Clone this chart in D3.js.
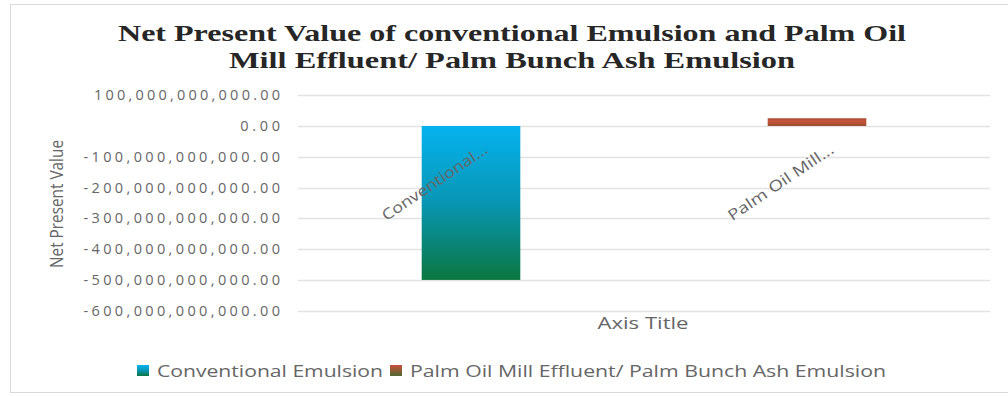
<!DOCTYPE html>
<html>
<head>
<meta charset="utf-8">
<script src="https://cdn.jsdelivr.net/npm/d3@7"></script>
<style>
  body { margin: 0; background: #ffffff; }
  svg { display: block; }
</style>
</head>
<body>
<div id="chart"></div>
<script>
// chart data
var categories = ["Conventional Emulsion", "Palm Oil Mill Effluent/ Palm Bunch Ash Emulsion"];
var categoryLabels = ["Conventional...", "Palm Oil Mill..."];
var seriesNames = ["Conventional Emulsion", "Palm Oil Mill Effluent/ Palm Bunch Ash Emulsion"];
var conventionalValues = [-500000000000, 0];
var palmValues = [0, 25000000000];
var yTicks = [100000000000, 0, -100000000000, -200000000000, -300000000000, -400000000000, -500000000000, -600000000000];
var titleLines = ["Net Present Value of conventional Emulsion and Palm Oil", "Mill Effluent/ Palm Bunch Ash Emulsion"];

// dimensions
var width = 1008, height = 396;
var plot = { left: 298, right: 990, top: 95.2, bottom: 310.7 };

var svg = d3.select("#chart")
    .append("svg")
    .attr("width", width)
    .attr("height", height);

// gradients for the bars and legend keys
var defs = svg.append("defs");
var g1 = defs.append("linearGradient").attr("id", "gradConv")
    .attr("x1", 0).attr("y1", 0).attr("x2", 0).attr("y2", 1);
g1.append("stop").attr("offset", "0%").attr("stop-color", "#05b2ee");
g1.append("stop").attr("offset", "50%").attr("stop-color", "#0996b4");
g1.append("stop").attr("offset", "100%").attr("stop-color", "#0b7640");
var g2 = defs.append("linearGradient").attr("id", "gradPalm")
    .attr("x1", 0).attr("y1", 0).attr("x2", 0).attr("y2", 1);
g2.append("stop").attr("offset", "0%").attr("stop-color", "#a9472f");
g2.append("stop").attr("offset", "40%").attr("stop-color", "#c5553b");
g2.append("stop").attr("offset", "100%").attr("stop-color", "#9a4a2c");
var g3 = defs.append("linearGradient").attr("id", "gradPalmKey")
    .attr("x1", 0).attr("y1", 0).attr("x2", 0).attr("y2", 1);
g3.append("stop").attr("offset", "0%").attr("stop-color", "#c9503a");
g3.append("stop").attr("offset", "100%").attr("stop-color", "#4f6a33");

// outer frame (right side runs off the picture)
svg.append("rect")
    .attr("x", 10.5).attr("y", 4.5)
    .attr("width", 1010).attr("height", 388)
    .attr("fill", "none")
    .attr("stroke", "#d9d9d9");

// scales
var x = d3.scaleBand()
    .domain(categories)
    .range([plot.left, plot.right])
    .padding(0);

var y = d3.scaleLinear()
    .domain([-600000000000, 100000000000])
    .range([plot.bottom, plot.top]);

var locale = d3.formatLocale({ decimal: ".", thousands: ",", grouping: [3], currency: ["", ""], minus: "-" });
var fmt = locale.format(",.2f");

// gridlines
svg.append("g")
    .selectAll("line")
    .data(yTicks)
    .enter()
    .append("line")
    .attr("x1", plot.left)
    .attr("x2", plot.right)
    .attr("y1", d => Math.round(y(d)) + 0.5)
    .attr("y2", d => Math.round(y(d)) + 0.5)
    .attr("stroke", "#e3e3e3")
    .attr("stroke-width", 1.3);

// y axis tick labels
var yAxis = d3.axisLeft(y)
    .tickValues(yTicks)
    .tickFormat(fmt)
    .tickSize(0)
    .tickPadding(0);

var yAxisG = svg.append("g")
    .attr("transform", "translate(280,0)")
    .call(yAxis);
yAxisG.select(".domain").remove();
yAxisG.selectAll("text")
    .attr("font-family", "'Open Sans', sans-serif")
    .attr("font-size", "14.5px")
    .attr("fill", "#666666")
    .attr("textLength", d => fmt(d).length * 10.45 - 2)
    .attr("lengthAdjust", "spacing");

// bars: each category holds one series
var barWidth = x.bandwidth() * 0.285;
var rows = categories.map((c, i) => ({ cat: c, conv: conventionalValues[i], palm: palmValues[i] }));

svg.append("g")
    .selectAll("rect")
    .data(rows.filter(d => d.conv !== 0))
    .enter()
    .append("rect")
    .attr("x", d => x(d.cat) + x.bandwidth() / 2 - barWidth / 2)
    .attr("y", d => y(Math.max(0, d.conv)))
    .attr("width", barWidth)
    .attr("height", d => Math.abs(y(d.conv) - y(0)))
    .attr("fill", "url(#gradConv)");

svg.append("g")
    .selectAll("rect")
    .data(rows.filter(d => d.palm !== 0))
    .enter()
    .append("rect")
    .attr("x", d => x(d.cat) + x.bandwidth() / 2 - barWidth / 2)
    .attr("y", d => y(Math.max(0, d.palm)))
    .attr("width", barWidth)
    .attr("height", d => Math.abs(y(d.palm) - y(0)))
    .attr("fill", "url(#gradPalm)");

// category labels, rotated
svg.append("g")
    .selectAll("text")
    .data(categories)
    .enter()
    .append("text")
    .attr("transform", d => "translate(" + (x(d) + x.bandwidth() / 2 + 18) + "," + (y(0) + 26) + ") rotate(-34)")
    .attr("text-anchor", "end")
    .attr("font-family", "'Open Sans', sans-serif")
    .attr("font-size", "15px")
    .attr("fill", "#666666")
    .attr("textLength", 124)
    .attr("lengthAdjust", "spacingAndGlyphs")
    .text((d, i) => categoryLabels[i]);

// axis titles
svg.append("text")
    .attr("x", 643)
    .attr("y", 329)
    .attr("text-anchor", "middle")
    .attr("font-family", "'Open Sans', sans-serif")
    .attr("font-size", "16px")
    .attr("fill", "#666666")
    .attr("textLength", 91)
    .attr("lengthAdjust", "spacingAndGlyphs")
    .text("Axis Title");

svg.append("text")
    .attr("transform", "translate(63,204) rotate(-90)")
    .attr("text-anchor", "middle")
    .attr("font-family", "'Open Sans', sans-serif")
    .attr("font-size", "17.5px")
    .attr("fill", "#666666")
    .attr("textLength", 128)
    .attr("lengthAdjust", "spacingAndGlyphs")
    .text("Net Present Value");

// chart title
var titleWidths = [788, 566];
svg.append("g")
    .selectAll("text")
    .data(titleLines)
    .enter()
    .append("text")
    .attr("x", 512)
    .attr("y", (d, i) => 41 + i * 27)
    .attr("text-anchor", "middle")
    .attr("font-family", "'Liberation Serif', 'Times New Roman', serif")
    .attr("font-weight", "bold")
    .attr("font-size", "24px")
    .attr("fill", "#262626")
    .attr("textLength", (d, i) => titleWidths[i])
    .attr("lengthAdjust", "spacingAndGlyphs")
    .text(d => d);

// legend
var legendItems = [
    { name: seriesNames[0], key: "url(#gradConv)", x: 137, tw: 226 },
    { name: seriesNames[1], key: "url(#gradPalmKey)", x: 390, tw: 476 }
];
var legend = svg.append("g")
    .selectAll("g")
    .data(legendItems)
    .enter()
    .append("g")
    .attr("transform", d => "translate(" + d.x + ",365)");
legend.append("rect")
    .attr("width", 12)
    .attr("height", 11)
    .attr("fill", d => d.key);
legend.append("text")
    .attr("x", 20)
    .attr("y", 11.5)
    .attr("font-family", "'Open Sans', sans-serif")
    .attr("font-size", "16.5px")
    .attr("fill", "#666666")
    .attr("textLength", d => d.tw)
    .attr("lengthAdjust", "spacingAndGlyphs")
    .text(d => d.name);
</script>
</body>
</html>
